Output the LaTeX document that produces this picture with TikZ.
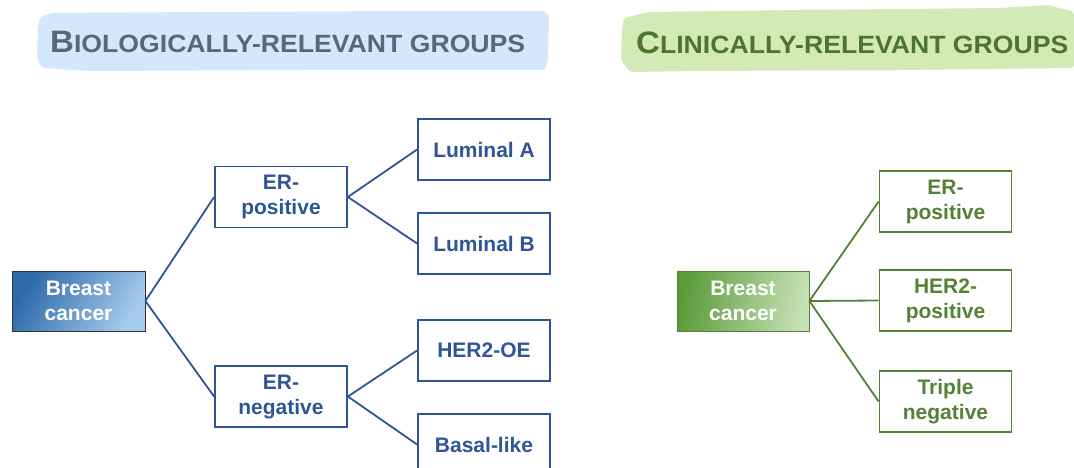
\documentclass[tikz,border=0pt]{standalone}
\usepackage{fontspec}
\setmainfont{Liberation Sans}
\definecolor{bblue}{HTML}{2F5597}
\definecolor{ggreen}{HTML}{548235}
\definecolor{tblue}{HTML}{56687A}
\definecolor{tgreen}{HTML}{4E7530}
\definecolor{hblue}{HTML}{D5E8FB}
\definecolor{hgreen}{HTML}{D3EAB6}
\definecolor{sbdark}{HTML}{2E69AB}
\definecolor{sblight}{HTML}{A6CAEC}
\definecolor{sgdark}{HTML}{5C9B3B}
\definecolor{sglight}{HTML}{C6E1B5}
\begin{document}
\begin{tikzpicture}[x=1pt,y=-1pt,
  boxb/.style={draw=bblue, line width=1.8pt, text=bblue, minimum width=132pt, minimum height=61pt,
    inner sep=0pt, align=center, font=\bfseries\fontsize{21}{25}\selectfont},
  boxg/.style={boxb, draw=ggreen, text=ggreen},
  linkb/.style={draw=bblue, line width=1.8pt},
  linkg/.style={draw=ggreen, line width=1.8pt},
  ttl/.style={anchor=base west, inner sep=0pt, font=\bfseries}]
\useasboundingbox (0,0) rectangle (1074,468);
% title highlights
\fill[hblue, rounded corners=3pt] (40,17) -- (52,13) -- (200,12) -- (400,11) -- (545,11) -- (549,16) -- (548,58) -- (545,70) -- (300,70) -- (90,71) -- (42,68) -- (37,58) -- (38,28) -- cycle;
\fill[hgreen, rounded corners=3pt] (624,18) -- (650,12) -- (800,10) -- (1000,8) -- (1048,5) -- (1074,12) -- (1074,68) -- (900,70) -- (700,71) -- (630,72) -- (621,60) -- (622,30) -- cycle;
\node[ttl, text=tblue] (t1) at (50,53) {\scalebox{1.065}[1]{\fontsize{31}{31}\selectfont B\fontsize{25}{25}\selectfont IOLOGICALLY-RELEVANT GROUPS}};
\node[ttl, text=tgreen] (t2) at (636,53.5) {\scalebox{1.065}[1]{\fontsize{31}{31}\selectfont C\fontsize{25}{25}\selectfont LINICALLY-RELEVANT GROUPS}};
% biological tree
\node[draw=black!80, line width=0.8pt, minimum width=133pt, minimum height=60pt, inner sep=0pt, align=center,
  left color=sbdark, right color=sblight, shading angle=60,
  text=white, font=\bfseries\fontsize{21}{25}\selectfont] (bbc) at (78.5,301) {Breast\\cancer};
\node[boxb] (erpos) at (281,197) {ER-\\positive};
\node[boxb] (erneg) at (281,396.5) {ER-\\negative};
\node[boxb] (luma) at (484,149.5) {Luminal A};
\node[boxb] (lumb) at (484,243.5) {Luminal B};
\node[boxb] (her2oe) at (484,350.5) {HER2-OE};
\node[boxb] (basal) at (484,444.5) {Basal-like};
\draw[linkb] (bbc.east) -- (erpos.west);
\draw[linkb] (bbc.east) -- (erneg.west);
\draw[linkb] (erpos.east) -- (luma.west);
\draw[linkb] (erpos.east) -- (lumb.west);
\draw[linkb] (erneg.east) -- (her2oe.west);
\draw[linkb] (erneg.east) -- (basal.west);
% clinical tree
\node[draw=ggreen, line width=0.8pt, minimum width=132pt, minimum height=60pt, inner sep=0pt, align=center,
  left color=sgdark, right color=sglight, shading angle=80,
  text=white, font=\bfseries\fontsize{21}{25}\selectfont] (gbc) at (743,301) {Breast\\cancer};
\node[boxg] (gerpos) at (945.5,201.5) {ER-\\positive};
\node[boxg] (gher2) at (945.5,300.5) {HER2-\\positive};
\node[boxg] (gtn) at (945.5,401.5) {Triple\\negative};
\draw[linkg] (gbc.east) -- (gerpos.west);
\draw[linkg] (gbc.east) -- (gher2.west);
\draw[linkg] (gbc.east) -- (gtn.west);
\end{tikzpicture}
\end{document}
